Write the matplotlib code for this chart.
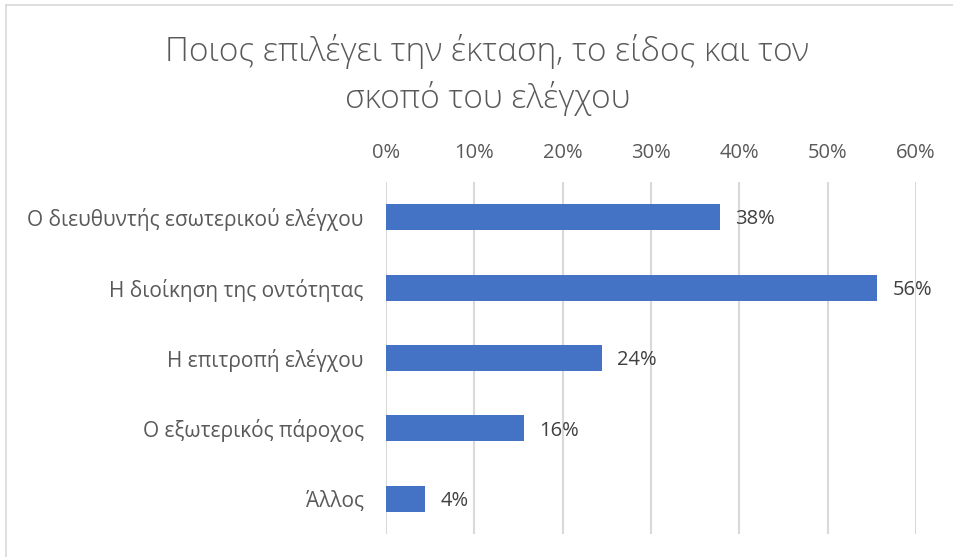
import matplotlib
matplotlib.use("Agg")
import matplotlib.pyplot as plt
from matplotlib.lines import Line2D
from matplotlib.ticker import FuncFormatter

plt.rcParams['font.family'] = ['Open Sans', 'DejaVu Sans']

categories = [
    "Ο διευθυντής εσωτερικού ελέγχου",
    "Η διοίκηση της οντότητας",
    "Η επιτροπή ελέγχου",
    "Ο εξωτερικός πάροχος",
    "Άλλος",
]
values = [37.8, 55.6, 24.4, 15.6, 4.4]
x_ticks = [0, 10, 20, 30, 40, 50, 60]
title = "Ποιος επιλέγει την έκταση, το είδος και τον\nσκοπό του ελέγχου"

bar_color = "#4472C4"
grid_color = "#D9D9D9"
label_color = "#595959"
value_color = "#404040"

fig = plt.figure(figsize=(9.54, 5.57), dpi=100)
ax = fig.add_axes([386 / 954, 23 / 557, 530 / 954, 352 / 557])

y = list(range(len(categories)))
ax.barh(y, values, height=0.37, color=bar_color, zorder=3)

for yi, v in zip(y, values):
    ax.text(v + 1.75, yi + 0.03, f"{v:.0f}%", va="center", ha="left",
            fontsize=14.5, color=value_color, zorder=4)

ax.set_xlim(0, 60)
ax.set_ylim(len(categories) - 0.5, -0.5)
ax.set_xticks(x_ticks)
ax.xaxis.set_major_formatter(FuncFormatter(lambda v, _: f"{v:.0f}%"))
ax.xaxis.tick_top()
ax.tick_params(axis="x", length=0, pad=14, labelsize=14.5, labelcolor=label_color)
ax.set_yticks(y)
ax.set_yticklabels(categories)
ax.tick_params(axis="y", length=0, pad=16, labelsize=15, labelcolor=label_color)

ax.grid(axis="x", color=grid_color, linewidth=1.5, zorder=0)
for s in ax.spines.values():
    s.set_visible(False)

fig.text(0.511, 1 - 75 / 557, title, ha="center", va="center",
         fontsize=24, color=label_color, linespacing=1.42, fontweight="light")

# chart-area frame (left and top edges)
fig.add_artist(Line2D([6.5 / 954, 6.5 / 954], [0, 1 - 5 / 557],
                      transform=fig.transFigure, color=grid_color, linewidth=1.2))
fig.add_artist(Line2D([6.5 / 954, 1], [1 - 5 / 557, 1 - 5 / 557],
                      transform=fig.transFigure, color=grid_color, linewidth=1.2))

fig.savefig("out.png", dpi=100, facecolor="white")
